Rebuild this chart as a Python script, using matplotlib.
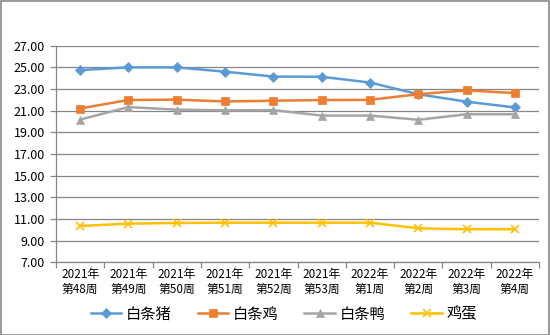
import numpy as np
import matplotlib
matplotlib.use("Agg")
import matplotlib.pyplot as plt
from matplotlib.patches import Rectangle

plt.rcParams['font.family'] = ['Noto Sans CJK SC', 'DejaVu Sans']

weeks = ["2021年\n第48周", "2021年\n第49周", "2021年\n第50周", "2021年\n第51周",
         "2021年\n第52周", "2021年\n第53周", "2022年\n第1周", "2022年\n第2周",
         "2022年\n第3周", "2022年\n第4周"]

pork = [24.75, 25.00, 25.00, 24.60, 24.15, 24.13, 23.60, 22.52, 21.83, 21.30]
chicken = [21.20, 21.99, 22.02, 21.85, 21.92, 21.98, 22.00, 22.52, 22.88, 22.62]
duck = [20.18, 21.33, 21.10, 21.03, 21.05, 20.55, 20.55, 20.16, 20.67, 20.67]
eggs = [10.35, 10.57, 10.63, 10.66, 10.66, 10.66, 10.66, 10.14, 10.05, 10.05]

series = [
    ("白条猪", pork, "#5B9BD5", "D", 5),
    ("白条鸡", chicken, "#ED7D31", "s", 6),
    ("白条鸭", duck, "#A5A5A5", "^", 6),
    ("鸡蛋", eggs, "#FFC000", "x", 6),
]

fig = plt.figure(figsize=(5.5, 3.35), dpi=100)
ax = fig.add_axes([56 / 550, 1 - 262.3 / 335, (539 - 56) / 550, (262.3 - 45.7) / 335])

x = np.arange(len(weeks))
for name, vals, color, marker, ms in series:
    ax.plot(x, vals, color=color, lw=1.8, marker=marker, markersize=ms,
            markeredgewidth=1.2 if marker == "x" else 0.5, label=name, zorder=3)

grid_c = "#868686"
ax.set_ylim(7, 27)
ax.set_yticks(np.arange(7, 28, 2))
ax.set_yticklabels([f"{v:.2f}" for v in np.arange(7, 28, 2)], fontsize=9)
ax.yaxis.grid(True, color=grid_c, lw=0.9)
ax.set_axisbelow(True)

ax.set_xlim(-0.5, len(weeks) - 0.5)
ax.set_xticks(np.arange(-0.5, len(weeks)), minor=False)
ax.set_xticklabels([])
ax.set_xticks(x, minor=True)
ax.set_xticklabels(weeks, minor=True, fontsize=8.5, linespacing=1.2)
ax.tick_params(axis="x", which="minor", length=0, pad=4)
ax.tick_params(axis="x", which="major", length=4, color=grid_c, width=0.9)
ax.tick_params(axis="y", length=4, color=grid_c, width=0.9, pad=4)

for side in ["top", "right"]:
    ax.spines[side].set_visible(False)
for side in ["left", "bottom"]:
    ax.spines[side].set_color(grid_c)
    ax.spines[side].set_linewidth(0.9)

fig.legend(loc="center", bbox_to_anchor=(0.516, 1 - 314 / 335), ncol=4,
           frameon=False, fontsize=11, handlelength=2.0, handletextpad=0.3,
           columnspacing=1.7)

fig.patches.append(Rectangle((0.5 / 550, 0.5 / 335), 548.5 / 550, 333.5 / 335,
                             transform=fig.transFigure, fill=False,
                             edgecolor="#888888", lw=1.2))

fig.savefig("out.png", dpi=100)
